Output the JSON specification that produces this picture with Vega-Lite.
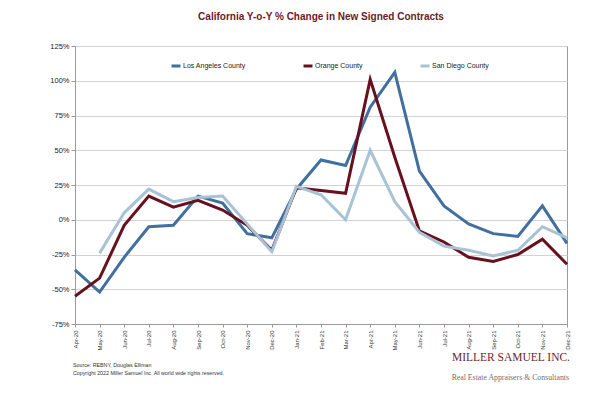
{
  "$schema": "https://vega.github.io/schema/vega-lite/v6.json",
  "width": 492,
  "height": 278,
  "autosize": {"type": "none"},
  "padding": {"left": 75, "top": 46, "right": 33, "bottom": 73},
  "background": "white",
  "title": {
    "text": "California Y-o-Y % Change in New Signed Contracts",
    "font": "Liberation Sans",
    "fontSize": 10,
    "fontWeight": "bold",
    "color": "#6B1A2A",
    "anchor": "middle",
    "offset": 20
  },
  "config": {
    "font": "Liberation Sans",
    "view": {"stroke": "#9a9a9a", "strokeWidth": 1}
  },
  "resolve": {"axis": {"x": "independent", "y": "independent"}},
  "datasets": {
    "series": [
      {"month": "Apr-20", "county": "Los Angeles County", "value": -36},
      {"month": "Apr-20", "county": "Orange County", "value": -55},
      {"month": "May-20", "county": "Los Angeles County", "value": -52},
      {"month": "May-20", "county": "Orange County", "value": -42},
      {"month": "May-20", "county": "San Diego County", "value": -24},
      {"month": "Jun-20", "county": "Los Angeles County", "value": -27},
      {"month": "Jun-20", "county": "Orange County", "value": -4},
      {"month": "Jun-20", "county": "San Diego County", "value": 5},
      {"month": "Jul-20", "county": "Los Angeles County", "value": -5},
      {"month": "Jul-20", "county": "Orange County", "value": 17},
      {"month": "Jul-20", "county": "San Diego County", "value": 22},
      {"month": "Aug-20", "county": "Los Angeles County", "value": -4},
      {"month": "Aug-20", "county": "Orange County", "value": 9},
      {"month": "Aug-20", "county": "San Diego County", "value": 13},
      {"month": "Sep-20", "county": "Los Angeles County", "value": 17},
      {"month": "Sep-20", "county": "Orange County", "value": 14},
      {"month": "Sep-20", "county": "San Diego County", "value": 16},
      {"month": "Oct-20", "county": "Los Angeles County", "value": 12},
      {"month": "Oct-20", "county": "Orange County", "value": 7},
      {"month": "Oct-20", "county": "San Diego County", "value": 17},
      {"month": "Nov-20", "county": "Los Angeles County", "value": -10},
      {"month": "Nov-20", "county": "Orange County", "value": -4},
      {"month": "Nov-20", "county": "San Diego County", "value": -3},
      {"month": "Dec-20", "county": "Los Angeles County", "value": -13},
      {"month": "Dec-20", "county": "Orange County", "value": -22},
      {"month": "Dec-20", "county": "San Diego County", "value": -23},
      {"month": "Jan-21", "county": "Los Angeles County", "value": 22},
      {"month": "Jan-21", "county": "Orange County", "value": 23},
      {"month": "Jan-21", "county": "San Diego County", "value": 24},
      {"month": "Feb-21", "county": "Los Angeles County", "value": 43},
      {"month": "Feb-21", "county": "Orange County", "value": 21},
      {"month": "Feb-21", "county": "San Diego County", "value": 18},
      {"month": "Mar-21", "county": "Los Angeles County", "value": 39},
      {"month": "Mar-21", "county": "Orange County", "value": 19},
      {"month": "Mar-21", "county": "San Diego County", "value": 0},
      {"month": "Apr-21", "county": "Los Angeles County", "value": 81},
      {"month": "Apr-21", "county": "Orange County", "value": 101},
      {"month": "Apr-21", "county": "San Diego County", "value": 50},
      {"month": "May-21", "county": "Los Angeles County", "value": 106},
      {"month": "May-21", "county": "Orange County", "value": 45},
      {"month": "May-21", "county": "San Diego County", "value": 13},
      {"month": "Jun-21", "county": "Los Angeles County", "value": 35},
      {"month": "Jun-21", "county": "Orange County", "value": -8},
      {"month": "Jun-21", "county": "San Diego County", "value": -9},
      {"month": "Jul-21", "county": "Los Angeles County", "value": 10},
      {"month": "Jul-21", "county": "Orange County", "value": -16},
      {"month": "Jul-21", "county": "San Diego County", "value": -19},
      {"month": "Aug-21", "county": "Los Angeles County", "value": -3},
      {"month": "Aug-21", "county": "Orange County", "value": -27},
      {"month": "Aug-21", "county": "San Diego County", "value": -22},
      {"month": "Sep-21", "county": "Los Angeles County", "value": -10},
      {"month": "Sep-21", "county": "Orange County", "value": -30},
      {"month": "Sep-21", "county": "San Diego County", "value": -26},
      {"month": "Oct-21", "county": "Los Angeles County", "value": -12},
      {"month": "Oct-21", "county": "Orange County", "value": -25},
      {"month": "Oct-21", "county": "San Diego County", "value": -22},
      {"month": "Nov-21", "county": "Los Angeles County", "value": 10},
      {"month": "Nov-21", "county": "Orange County", "value": -14},
      {"month": "Nov-21", "county": "San Diego County", "value": -5},
      {"month": "Dec-21", "county": "Los Angeles County", "value": -17},
      {"month": "Dec-21", "county": "Orange County", "value": -32},
      {"month": "Dec-21", "county": "San Diego County", "value": -13}
    ]
  },
  "layer": [
    {
      "data": {"name": "series"},
      "mark": {"type": "line", "strokeWidth": 3, "strokeJoin": "miter", "clip": false},
      "encoding": {
        "x": {
          "field": "month",
          "type": "ordinal",
          "scale": {
            "type": "point",
            "padding": 0,
            "domain": ["Apr-20", "May-20", "Jun-20", "Jul-20", "Aug-20", "Sep-20", "Oct-20", "Nov-20", "Dec-20", "Jan-21", "Feb-21", "Mar-21", "Apr-21", "May-21", "Jun-21", "Jul-21", "Aug-21", "Sep-21", "Oct-21", "Nov-21", "Dec-21"]
          },
          "axis": {
            "title": null,
            "labelAngle": -90,
            "labelFontSize": 6,
            "labelColor": "#333333",
            "labelPadding": 3,
            "labelOverlap": false,
            "tickSize": 3,
            "tickColor": "#9a9a9a",
            "domainColor": "#9a9a9a",
            "grid": false
          }
        },
        "y": {
          "field": "value",
          "type": "quantitative",
          "scale": {"domain": [-75, 125], "nice": false, "zero": false},
          "axis": {
            "title": null,
            "values": [-75, -50, -25, 0, 25, 50, 75, 100, 125],
            "labelExpr": "datum.value + '%'",
            "labelOverlap": false,
            "labelFontSize": 7.5,
            "labelColor": "#222222",
            "labelPadding": 2,
            "tickSize": 4,
            "tickColor": "#9a9a9a",
            "domainColor": "#9a9a9a",
            "grid": true,
            "gridColor": "#d2d2d2",
            "gridWidth": 1
          }
        },
        "color": {
          "field": "county",
          "type": "nominal",
          "scale": {
            "domain": ["Los Angeles County", "Orange County", "San Diego County"],
            "range": ["#41709E", "#66111E", "#A8C3D5"]
          },
          "legend": {
            "title": null,
            "orient": "none",
            "legendX": 95,
            "legendY": 14,
            "direction": "horizontal",
            "symbolType": "stroke",
            "symbolSize": 81,
            "symbolStrokeWidth": 3,
            "labelFontSize": 7,
            "labelColor": "#222222",
            "labelOffset": 1,
            "columnPadding": 51
          }
        }
      }
    },
    {
      "data": {"values": [{}]},
      "mark": {"type": "text", "align": "left", "baseline": "middle", "fontSize": 5.3, "color": "#333333", "dx": -2, "text": "Source: REBNY, Douglas Elliman"},
      "encoding": {"x": {"datum": "Apr-20", "axis": null}, "y": {"datum": -104.5, "axis": null}}
    },
    {
      "data": {"values": [{}]},
      "mark": {"type": "text", "align": "left", "baseline": "middle", "fontSize": 5.3, "color": "#333333", "dx": -2, "text": "Copyright 2022 Miller Samuel Inc.  All world wide rights reserved."},
      "encoding": {"x": {"datum": "Apr-20", "axis": null}, "y": {"datum": -110.5, "axis": null}}
    },
    {
      "data": {"values": [{}]},
      "mark": {"type": "text", "align": "right", "baseline": "middle", "fontSize": 11.5, "font": "Liberation Serif", "color": "#6E1F2C", "dx": 3, "text": "MILLER SAMUEL INC."},
      "encoding": {"x": {"datum": "Dec-21", "axis": null}, "y": {"datum": -99.5, "axis": null}}
    },
    {
      "data": {"values": [{}]},
      "mark": {"type": "text", "align": "right", "baseline": "middle", "fontSize": 7.8, "font": "Liberation Serif", "color": "#6f6f6f", "dx": 2, "text": "Real Estate Appraisers & Consultants"},
      "encoding": {"x": {"datum": "Dec-21", "axis": null}, "y": {"datum": -113.5, "axis": null}}
    }
  ]
}
